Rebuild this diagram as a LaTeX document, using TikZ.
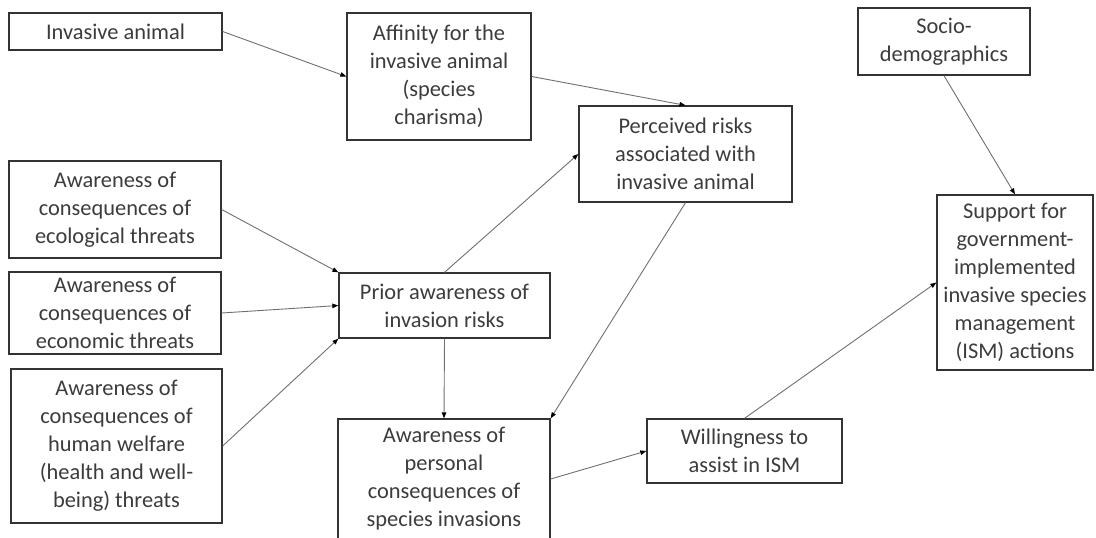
\documentclass[tikz,border=0pt]{standalone}
\usepackage{fontspec}
\setmainfont{Carlito}
\usetikzlibrary{arrows.meta}
\definecolor{boxline}{HTML}{333333}
\definecolor{linkline}{HTML}{707070}
\definecolor{txt}{HTML}{3C3C3C}
\tikzset{
  factor/.style={draw=boxline, line width=1.3pt, rectangle, inner sep=0pt, align=center,
    text=txt, font=\fontsize{22.4}{28}\selectfont, fill=white},
  link/.style={draw=linkline, line width=0.9pt, -{Triangle[length=6pt,width=4.5pt,color=black]}}
}
\begin{document}
\begin{tikzpicture}[x=1pt,y=-1pt]
\useasboundingbox[fill=white] (0,0) rectangle (1096,538);
\node[factor, minimum width=213, minimum height=37] (A) at (115.5,31.5) {Invasive animal};
\node[factor, minimum width=184, minimum height=127] (B) at (439,76.5) {Affinity for the\\invasive animal\\(species\\charisma)};
\node[factor, minimum width=212, minimum height=97] (C) at (115,209.5) {Awareness of\\consequences of\\ecological threats};
\node[factor, minimum width=212, minimum height=82] (D) at (115,313) {Awareness of\\consequences of\\economic threats};
\node[factor, minimum width=211, minimum height=154] (E) at (116.5,446) {Awareness of\\consequences of\\human welfare\\(health and well-\\being) threats};
\node[factor, minimum width=211, minimum height=65] (F) at (444.5,305.5) {Prior awareness of\\invasion risks};
\node[factor, minimum width=213, minimum height=96] (G) at (685.5,154) {Perceived risks\\associated with\\invasive animal};
\node[factor, minimum width=212, minimum height=120] (H) at (444,479) {Awareness of\\personal\\consequences of\\species invasions};
\node[factor, minimum width=195, minimum height=64] (I) at (744.5,451) {Willingness to\\assist in ISM};
\node[factor, minimum width=172, minimum height=67] (J) at (944,41.5) {Socio-\\demographics};
\node[factor, minimum width=156, minimum height=175] (K) at (1015,282.5) {Support for\\government-\\implemented\\invasive species\\management\\(ISM) actions};
\draw[link] (A.east) -- (B.west);
\draw[link] (B.east) -- (G.north);
\draw[link] (C.east) -- (F.north west);
\draw[link] (D.east) -- (F.west);
\draw[link] (E.east) -- (F.south west);
\draw[link] (F.north) -- (G.west);
\draw[link] (F.south) -- (H.north);
\draw[link] (G.south) -- (H.north east);
\draw[link] (H.east) -- (I.west);
\draw[link] (I.north) -- (K.west);
\draw[link] (J.south) -- (K.north);
\end{tikzpicture}
\end{document}
